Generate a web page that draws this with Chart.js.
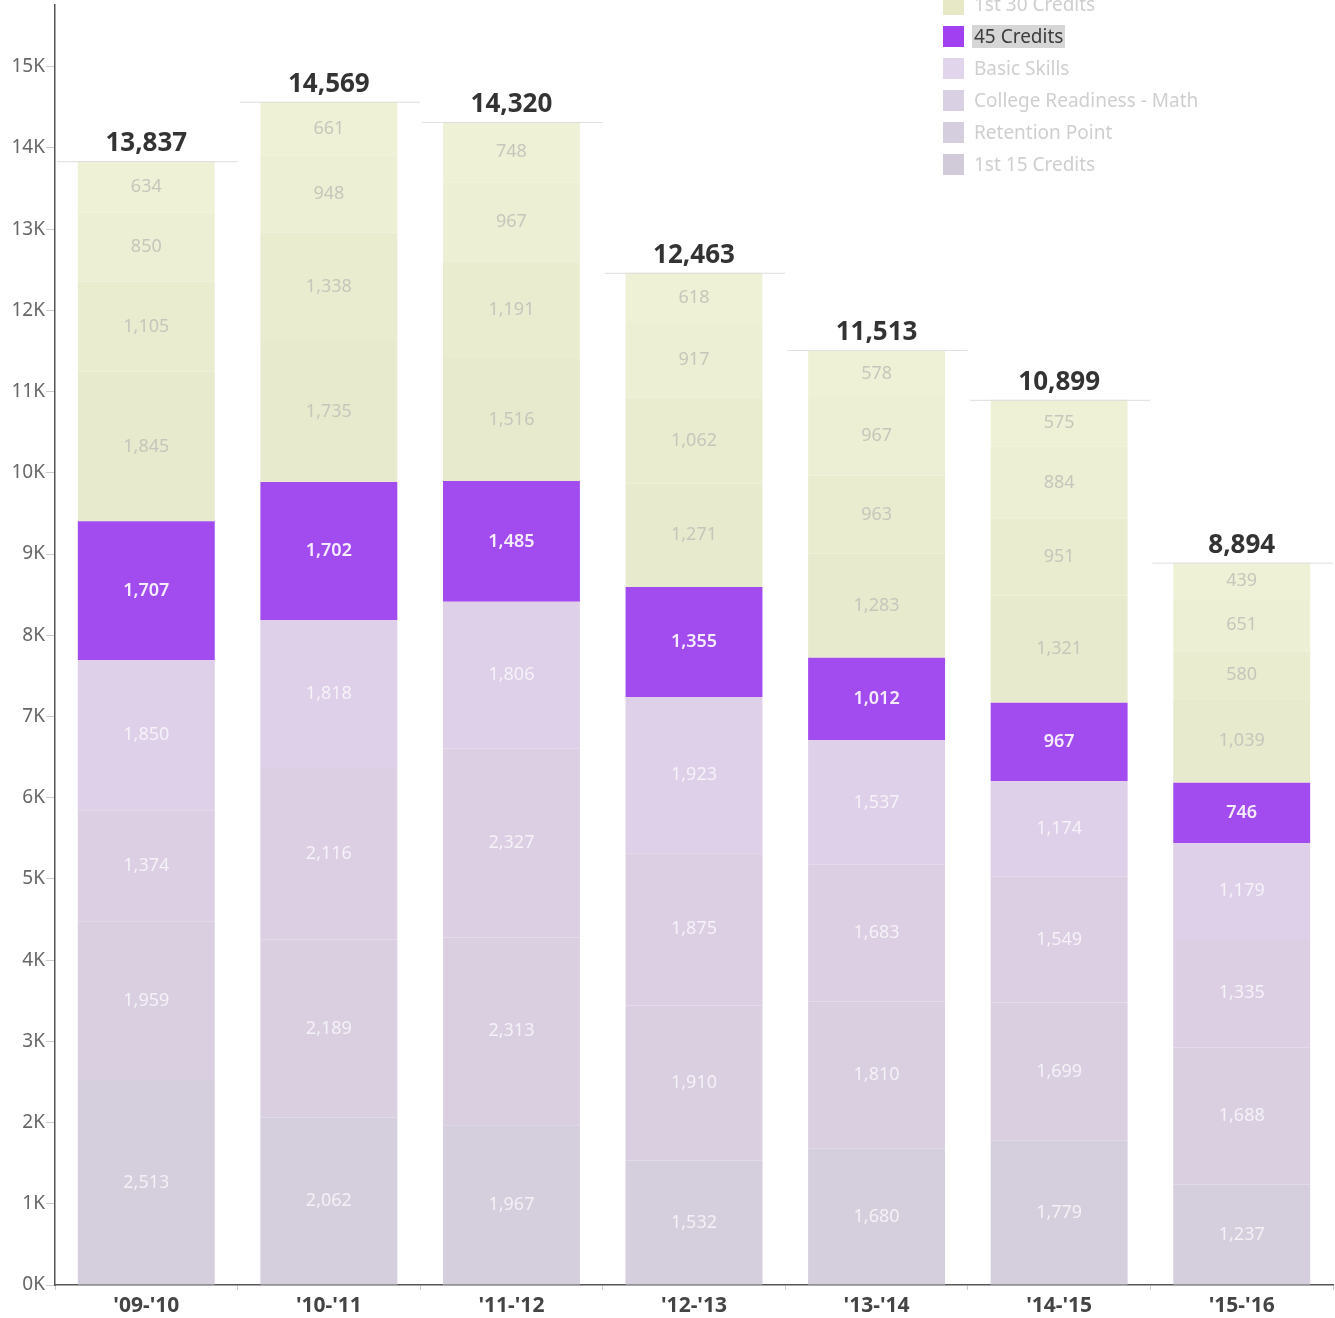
<!DOCTYPE html>
<html>
<head>
<meta charset="utf-8">
<script src="https://cdn.jsdelivr.net/npm/chart.js@4.4.1/dist/chart.umd.min.js"></script>
<style>
  body { margin: 0; background: #fff; font-family: "Noto Sans", "Open Sans", sans-serif; }
  #wrap { position: relative; width: 1335px; height: 1318px; overflow: hidden; }
  #legend { position: absolute; left: 943px; top: -6px; }
  .item { height: 32px; display: flex; align-items: flex-start; font-size: 19px; color: #cfcfcf; }
  .sw { width: 21px; height: 21px; margin-right: 8px; flex: none; }
  .item span { line-height: 23px; padding: 0 2px; margin-top: -1px; }
  .item.on span { background: #d6d6d6; color: #3c3c3c; }
</style>
</head>
<body>
<div id="wrap">
  <canvas id="chart" width="1335" height="1318"></canvas>
  <div id="legend"></div>
</div>
<script>
const years = ["'09-'10", "'10-'11", "'11-'12", "'12-'13", "'13-'14", "'14-'15", "'15-'16"];
const yTicks = [0, 1000, 2000, 3000, 4000, 5000, 6000, 7000, 8000, 9000, 10000, 11000, 12000, 13000, 14000, 15000];

// stack order, bottom to top
const firstFifteen   = [2513, 2062, 1967, 1532, 1680, 1779, 1237];
const retentionPoint = [1959, 2189, 2313, 1910, 1810, 1699, 1688];
const collegeMath    = [1374, 2116, 2327, 1875, 1683, 1549, 1335];
const basicSkills    = [1850, 1818, 1806, 1923, 1537, 1174, 1179];
const fortyFive      = [1707, 1702, 1485, 1355, 1012, 967, 746];
const firstThirty    = [1845, 1735, 1516, 1271, 1283, 1321, 1039];
const upperA         = [1105, 1338, 1191, 1062, 963, 951, 580];
const upperB         = [850, 948, 967, 917, 967, 884, 651];
const upperC         = [634, 661, 748, 618, 578, 575, 439];

const series = [
  { label: '1st 15 Credits', data: firstFifteen, color: '#d5cedd', text: 'rgba(255,255,255,0.72)' },
  { label: 'Retention Point', data: retentionPoint, color: '#d9cfe1', text: 'rgba(255,255,255,0.72)' },
  { label: 'College Readiness - Math', data: collegeMath, color: '#dccfe4', text: 'rgba(255,255,255,0.72)' },
  { label: 'Basic Skills', data: basicSkills, color: '#ded0e8', text: 'rgba(255,255,255,0.72)' },
  { label: '45 Credits', data: fortyFive, color: '#a24cf0', text: '#f6ecff', bold: true },
  { label: '1st 30 Credits', data: firstThirty, color: '#e8eacd', text: '#c6c6bb' },
  { label: 'Upper A', data: upperA, color: '#eaecd0', text: '#c6c6bb' },
  { label: 'Upper B', data: upperB, color: '#edefd4', text: '#c6c6bb' },
  { label: 'Upper C', data: upperC, color: '#eff1d7', text: '#c6c6bb' }
];

const legendItems = [
  { label: '1st 30 Credits', color: '#e6e8c6' },
  { label: '45 Credits', color: '#a040f0', on: true },
  { label: 'Basic Skills', color: '#e0d5ea' },
  { label: 'College Readiness - Math', color: '#d9d0e3' },
  { label: 'Retention Point', color: '#d5cedf' },
  { label: '1st 15 Credits', color: '#d1cad9' }
];

const legendEl = document.getElementById('legend');
legendItems.forEach(it => {
  const row = document.createElement('div');
  row.className = 'item' + (it.on ? ' on' : '');
  row.innerHTML = `<div class="sw" style="background:${it.color}"></div><span>${it.label}</span>`;
  legendEl.appendChild(row);
});

const totals = years.map((_, i) => series.reduce((s, d) => s + d.data[i], 0));
const fmt = v => v.toLocaleString('en-US');

const segmentLabels = {
  id: 'segmentLabels',
  afterDatasetsDraw(chart) {
    const ctx = chart.ctx;
    ctx.save();
    ctx.textAlign = 'center';
    ctx.textBaseline = 'middle';
    chart.data.datasets.forEach((ds, di) => {
      const s = series[di];
      ctx.fillStyle = s.text;
      ctx.font = (s.bold ? '600 ' : '') + '18px "Noto Sans", sans-serif';
      chart.getDatasetMeta(di).data.forEach((el, i) => {
        ctx.fillText(fmt(ds.data[i]), el.x, (el.y + el.base) / 2);
      });
    });
    ctx.restore();
  }
};

const totalLabels = {
  id: 'totalLabels',
  afterDatasetsDraw(chart) {
    const ctx = chart.ctx;
    const xs = chart.scales.x, ys = chart.scales.y;
    const half = xs.width / years.length / 2;
    ctx.save();
    totals.forEach((t, i) => {
      const x = xs.getPixelForValue(i);
      const y = ys.getPixelForValue(t);
      ctx.strokeStyle = '#dedede';
      ctx.lineWidth = 1;
      ctx.beginPath();
      ctx.moveTo(x - half + 2, y + 0.5);
      ctx.lineTo(x + half, y + 0.5);
      ctx.stroke();
      ctx.fillStyle = '#333';
      ctx.font = 'bold 26px "Noto Sans", sans-serif';
      ctx.textAlign = 'center';
      ctx.textBaseline = 'alphabetic';
      ctx.fillText(fmt(t), x, y - 10);
    });
    ctx.restore();
  }
};

new Chart(document.getElementById('chart'), {
  type: 'bar',
  data: {
    labels: years,
    datasets: series.map(s => ({
      label: s.label,
      data: s.data,
      backgroundColor: s.color,
      borderWidth: 0,
      categoryPercentage: 0.75,
      barPercentage: 1
    }))
  },
  options: {
    responsive: false,
    animation: false,
    layout: { padding: { top: 5, right: 2, left: 0, bottom: 0 } },
    plugins: { legend: { display: false }, tooltip: { enabled: false } },
    scales: {
      x: {
        stacked: true,
        afterFit: s => { s.height = 33; s.paddingLeft = 0; s.paddingRight = 0; },
        border: { color: '#555', width: 1.5 },
        grid: { drawOnChartArea: false, tickLength: 5, color: '#cccccc', offset: true },
        ticks: { color: '#444', padding: 3, font: { family: '"Noto Sans", sans-serif', size: 21, weight: 'bold' } }
      },
      y: {
        stacked: true,
        min: 0,
        max: 15760,
        afterFit: s => { s.width = 55; s.paddingTop = 0; s.paddingBottom = 0; },
        afterBuildTicks: s => { s.ticks = yTicks.map(v => ({ value: v })); },
        border: { color: '#555', width: 1.5 },
        grid: { drawOnChartArea: false, tickLength: 9, color: '#cccccc' },
        ticks: {
          autoSkip: false,
          color: '#666',
          padding: 1,
          font: { family: '"Noto Sans", sans-serif', size: 19 },
          callback: v => (v / 1000) + 'K'
        }
      }
    }
  },
  plugins: [segmentLabels, totalLabels]
});
</script>
</body>
</html>
